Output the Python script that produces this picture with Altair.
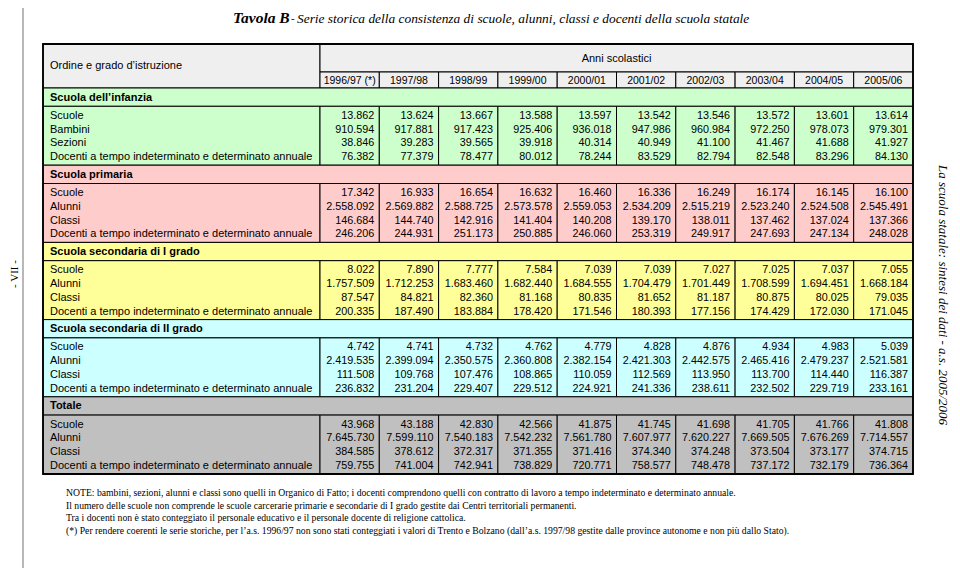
import altair as alt
import pandas as pd

# ---------------- data ----------------
years = ["1996/97 (*)", "1997/98", "1998/99", "1999/00", "2000/01",
         "2001/02", "2002/03", "2003/04", "2004/05", "2005/06"]

sections = ["Scuola dell’infanzia", "Scuola primaria", "Scuola secondaria di I grado",
            "Scuola secondaria di II grado", "Totale"]

labels_infanzia = ["Scuole", "Bambini", "Sezioni",
                   "Docenti a tempo indeterminato e determinato annuale"]
labels_other = ["Scuole", "Alunni", "Classi",
                "Docenti a tempo indeterminato e determinato annuale"]

infanzia_scuole = [13862, 13624, 13667, 13588, 13597, 13542, 13546, 13572, 13601, 13614]
infanzia_bambini = [910594, 917881, 917423, 925406, 936018, 947986, 960984, 972250, 978073, 979301]
infanzia_sezioni = [38846, 39283, 39565, 39918, 40314, 40949, 41100, 41467, 41688, 41927]
infanzia_docenti = [76382, 77379, 78477, 80012, 78244, 83529, 82794, 82548, 83296, 84130]

primaria_scuole = [17342, 16933, 16654, 16632, 16460, 16336, 16249, 16174, 16145, 16100]
primaria_alunni = [2558092, 2569882, 2588725, 2573578, 2559053, 2534209, 2515219, 2523240, 2524508, 2545491]
primaria_classi = [146684, 144740, 142916, 141404, 140208, 139170, 138011, 137462, 137024, 137366]
primaria_docenti = [246206, 244931, 251173, 250885, 246060, 253319, 249917, 247693, 247134, 248028]

sec1_scuole = [8022, 7890, 7777, 7584, 7039, 7039, 7027, 7025, 7037, 7055]
sec1_alunni = [1757509, 1712253, 1683460, 1682440, 1684555, 1704479, 1701449, 1708599, 1694451, 1668184]
sec1_classi = [87547, 84821, 82360, 81168, 80835, 81652, 81187, 80875, 80025, 79035]
sec1_docenti = [200335, 187490, 183884, 178420, 171546, 180393, 177156, 174429, 172030, 171045]

sec2_scuole = [4742, 4741, 4732, 4762, 4779, 4828, 4876, 4934, 4983, 5039]
sec2_alunni = [2419535, 2399094, 2350575, 2360808, 2382154, 2421303, 2442575, 2465416, 2479237, 2521581]
sec2_classi = [111508, 109768, 107476, 108865, 110059, 112569, 113950, 113700, 114440, 116387]
sec2_docenti = [236832, 231204, 229407, 229512, 224921, 241336, 238611, 232502, 229719, 233161]

tot_scuole = [43968, 43188, 42830, 42566, 41875, 41745, 41698, 41705, 41766, 41808]
tot_alunni = [7645730, 7599110, 7540183, 7542232, 7561780, 7607977, 7620227, 7669505, 7676269, 7714557]
tot_classi = [384585, 378612, 372317, 371355, 371416, 374340, 374248, 373504, 373177, 374715]
tot_docenti = [759755, 741004, 742941, 738829, 720771, 758577, 748478, 737172, 732179, 736364]

section_values = [
    [infanzia_scuole, infanzia_bambini, infanzia_sezioni, infanzia_docenti],
    [primaria_scuole, primaria_alunni, primaria_classi, primaria_docenti],
    [sec1_scuole, sec1_alunni, sec1_classi, sec1_docenti],
    [sec2_scuole, sec2_alunni, sec2_classi, sec2_docenti],
    [tot_scuole, tot_alunni, tot_classi, tot_docenti],
]
section_labels = [labels_infanzia] + [labels_other] * 4

title_bold = "Tavola B"
title_dash = "-"
title_rest = "Serie storica della consistenza di scuole, alunni, classi e docenti della scuola statale"
header_left = "Ordine e grado d’istruzione"
header_right = "Anni scolastici"
notes = [
    "NOTE: bambini, sezioni, alunni e classi sono quelli in Organico di Fatto; i docenti comprendono quelli con contratto di lavoro a tempo indeterminato e determinato annuale.",
    "Il numero delle scuole non comprende le scuole carcerarie primarie e secondarie di I grado gestite dai Centri territoriali permanenti.",
    "Tra i docenti non è stato conteggiato il personale educativo e il personale docente di religione cattolica.",
    "(*) Per rendere coerenti le serie storiche, per l’a.s. 1996/97 non sono stati conteggiati i valori di Trento e Bolzano (dall’a.s. 1997/98 gestite dalle province autonome e non più dallo Stato).",
]
page_label = "- VII -"
side_label = "La scuola statale: sintesi dei dati - a.s. 2005/2006"

# ---------------- layout (page pixel units) ----------------
X0, XL, X1 = 43, 320, 913
COLW = (X1 - XL) / 10
Y_TOP, Y_MID, Y_HDR = 44, 72, 88
SEC_H, HDR_H = 77.2, 18.3
ROW_OFF = [9.4, 23.2, 37.0, 50.8]
Y_BOT = Y_HDR + 5 * SEC_H
HDR_FILL = "#efefef"
SEC_FILL = ["#ccffcc", "#ffcccc", "#ffff99", "#ccffff", "#c0c0c0"]


def fmt(v):
    return f"{v:,}".replace(",", ".")


rects, nums, labs, bolds, yearlab = [], [], [], [], []
rects.append(dict(x=X0, x2=XL, y=Y_TOP, y2=Y_HDR, fill=HDR_FILL))
rects.append(dict(x=XL, x2=X1, y=Y_TOP, y2=Y_MID, fill=HDR_FILL))
for j, yr in enumerate(years):
    rects.append(dict(x=XL + j * COLW, x2=XL + (j + 1) * COLW, y=Y_MID, y2=Y_HDR, fill=HDR_FILL))
    yearlab.append(dict(x=XL + (j + 0.5) * COLW, y=(Y_MID + Y_HDR) / 2 + 0.5, t=yr))

for k, sec in enumerate(sections):
    s0 = Y_HDR + k * SEC_H
    s1 = s0 + HDR_H
    s2 = s0 + SEC_H
    rects.append(dict(x=X0, x2=X1, y=s0, y2=s1, fill=SEC_FILL[k]))
    rects.append(dict(x=X0, x2=XL, y=s1, y2=s2, fill=SEC_FILL[k]))
    bolds.append(dict(x=50, y=(s0 + s1) / 2 + 0.5, t=sec))
    for j in range(10):
        rects.append(dict(x=XL + j * COLW, x2=XL + (j + 1) * COLW, y=s1, y2=s2, fill=SEC_FILL[k]))
    for r in range(4):
        yy = s1 + ROW_OFF[r]
        labs.append(dict(x=50, y=yy, t=section_labels[k][r]))
        for j in range(10):
            nums.append(dict(x=XL + (j + 1) * COLW - 5, y=yy, t=fmt(section_values[k][r][j])))

rect_df = pd.DataFrame(rects)
num_df = pd.DataFrame(nums)
lab_df = pd.DataFrame(labs)
bold_df = pd.DataFrame(bolds)
year_df = pd.DataFrame(yearlab)

W, H = 944, 560
XS = alt.Scale(domain=[8, 8 + W], nice=False, zero=False)
YS = alt.Scale(domain=[8, 8 + H], nice=False, zero=False, reverse=True)


def X(f="x"):
    return alt.X(f"{f}:Q", scale=XS, axis=None)


def Y(f="y"):
    return alt.Y(f"{f}:Q", scale=YS, axis=None)


cells = alt.Chart(rect_df).mark_rect(stroke="black", strokeWidth=1).encode(
    x=X(), x2="x2", y=Y(), y2="y2", color=alt.Color("fill:N", scale=None))

outer = alt.Chart(pd.DataFrame([dict(x=X0, x2=X1, y=Y_TOP, y2=Y_BOT)])).mark_rect(
    filled=False, stroke="black", strokeWidth=1.8).encode(x=X(), x2="x2", y=Y(), y2="y2")

FONT = "Liberation Sans"
SERIF = "Liberation Serif"


def text_layer(df, **kw):
    base = dict(font=FONT, fontSize=11, baseline="middle", color="black")
    base.update(kw)
    return alt.Chart(df).mark_text(**base).encode(x=X(), y=Y(), text="t:N")


num_layer = text_layer(num_df, align="right", fontSize=10.8)
lab_layer = text_layer(lab_df, align="left")
bold_layer = text_layer(bold_df, align="left", fontWeight="bold")
year_layer = text_layer(year_df, align="center", fontSize=10.5)
hdr_l = text_layer(pd.DataFrame([dict(x=50, y=66, t=header_left)]), align="left")
hdr_r = text_layer(pd.DataFrame([dict(x=(XL + X1) / 2, y=59, t=header_right)]), align="center")

title1 = text_layer(pd.DataFrame([dict(x=233, y=18, t=title_bold)]), align="left",
                    font=SERIF, fontSize=15.5, fontWeight="bold", fontStyle="italic")
title_d = text_layer(pd.DataFrame([dict(x=291, y=18.5, t=title_dash)]), align="left",
                     font=SERIF, fontSize=11, fontStyle="italic")
title2 = text_layer(pd.DataFrame([dict(x=297, y=18.5, t=title_rest)]), align="left",
                    font=SERIF, fontSize=13.4, fontStyle="italic")
note_df = pd.DataFrame([dict(x=66, y=493 + 12.6 * i, t=n) for i, n in enumerate(notes)])
note_layer = text_layer(note_df, align="left", font=SERIF, fontSize=9.7)

page_layer = text_layer(pd.DataFrame([dict(x=15, y=274, t=page_label)]), align="center",
                        font=SERIF, fontSize=11, angle=270)
side_layer = text_layer(pd.DataFrame([dict(x=943, y=295, t=side_label)]), align="center",
                        font=SERIF, fontSize=13, fontStyle="italic", angle=90)

vline = alt.Chart(pd.DataFrame([dict(x=23, y=8, y2=8 + H)])).mark_rule(
    color="#888888", strokeWidth=1.2).encode(x=X(), y=Y(), y2="y2")

chart = alt.layer(
    cells, outer, num_layer, lab_layer, bold_layer, year_layer, hdr_l, hdr_r,
    title1, title_d, title2, note_layer, page_layer, side_layer, vline
).properties(
    width=W, height=H, padding=0,
    autosize=alt.AutoSizeParams(type="none"),
    background="white",
).configure_view(stroke=None)

chart.save("out.html", embed_options={"renderer": "svg", "actions": False})
